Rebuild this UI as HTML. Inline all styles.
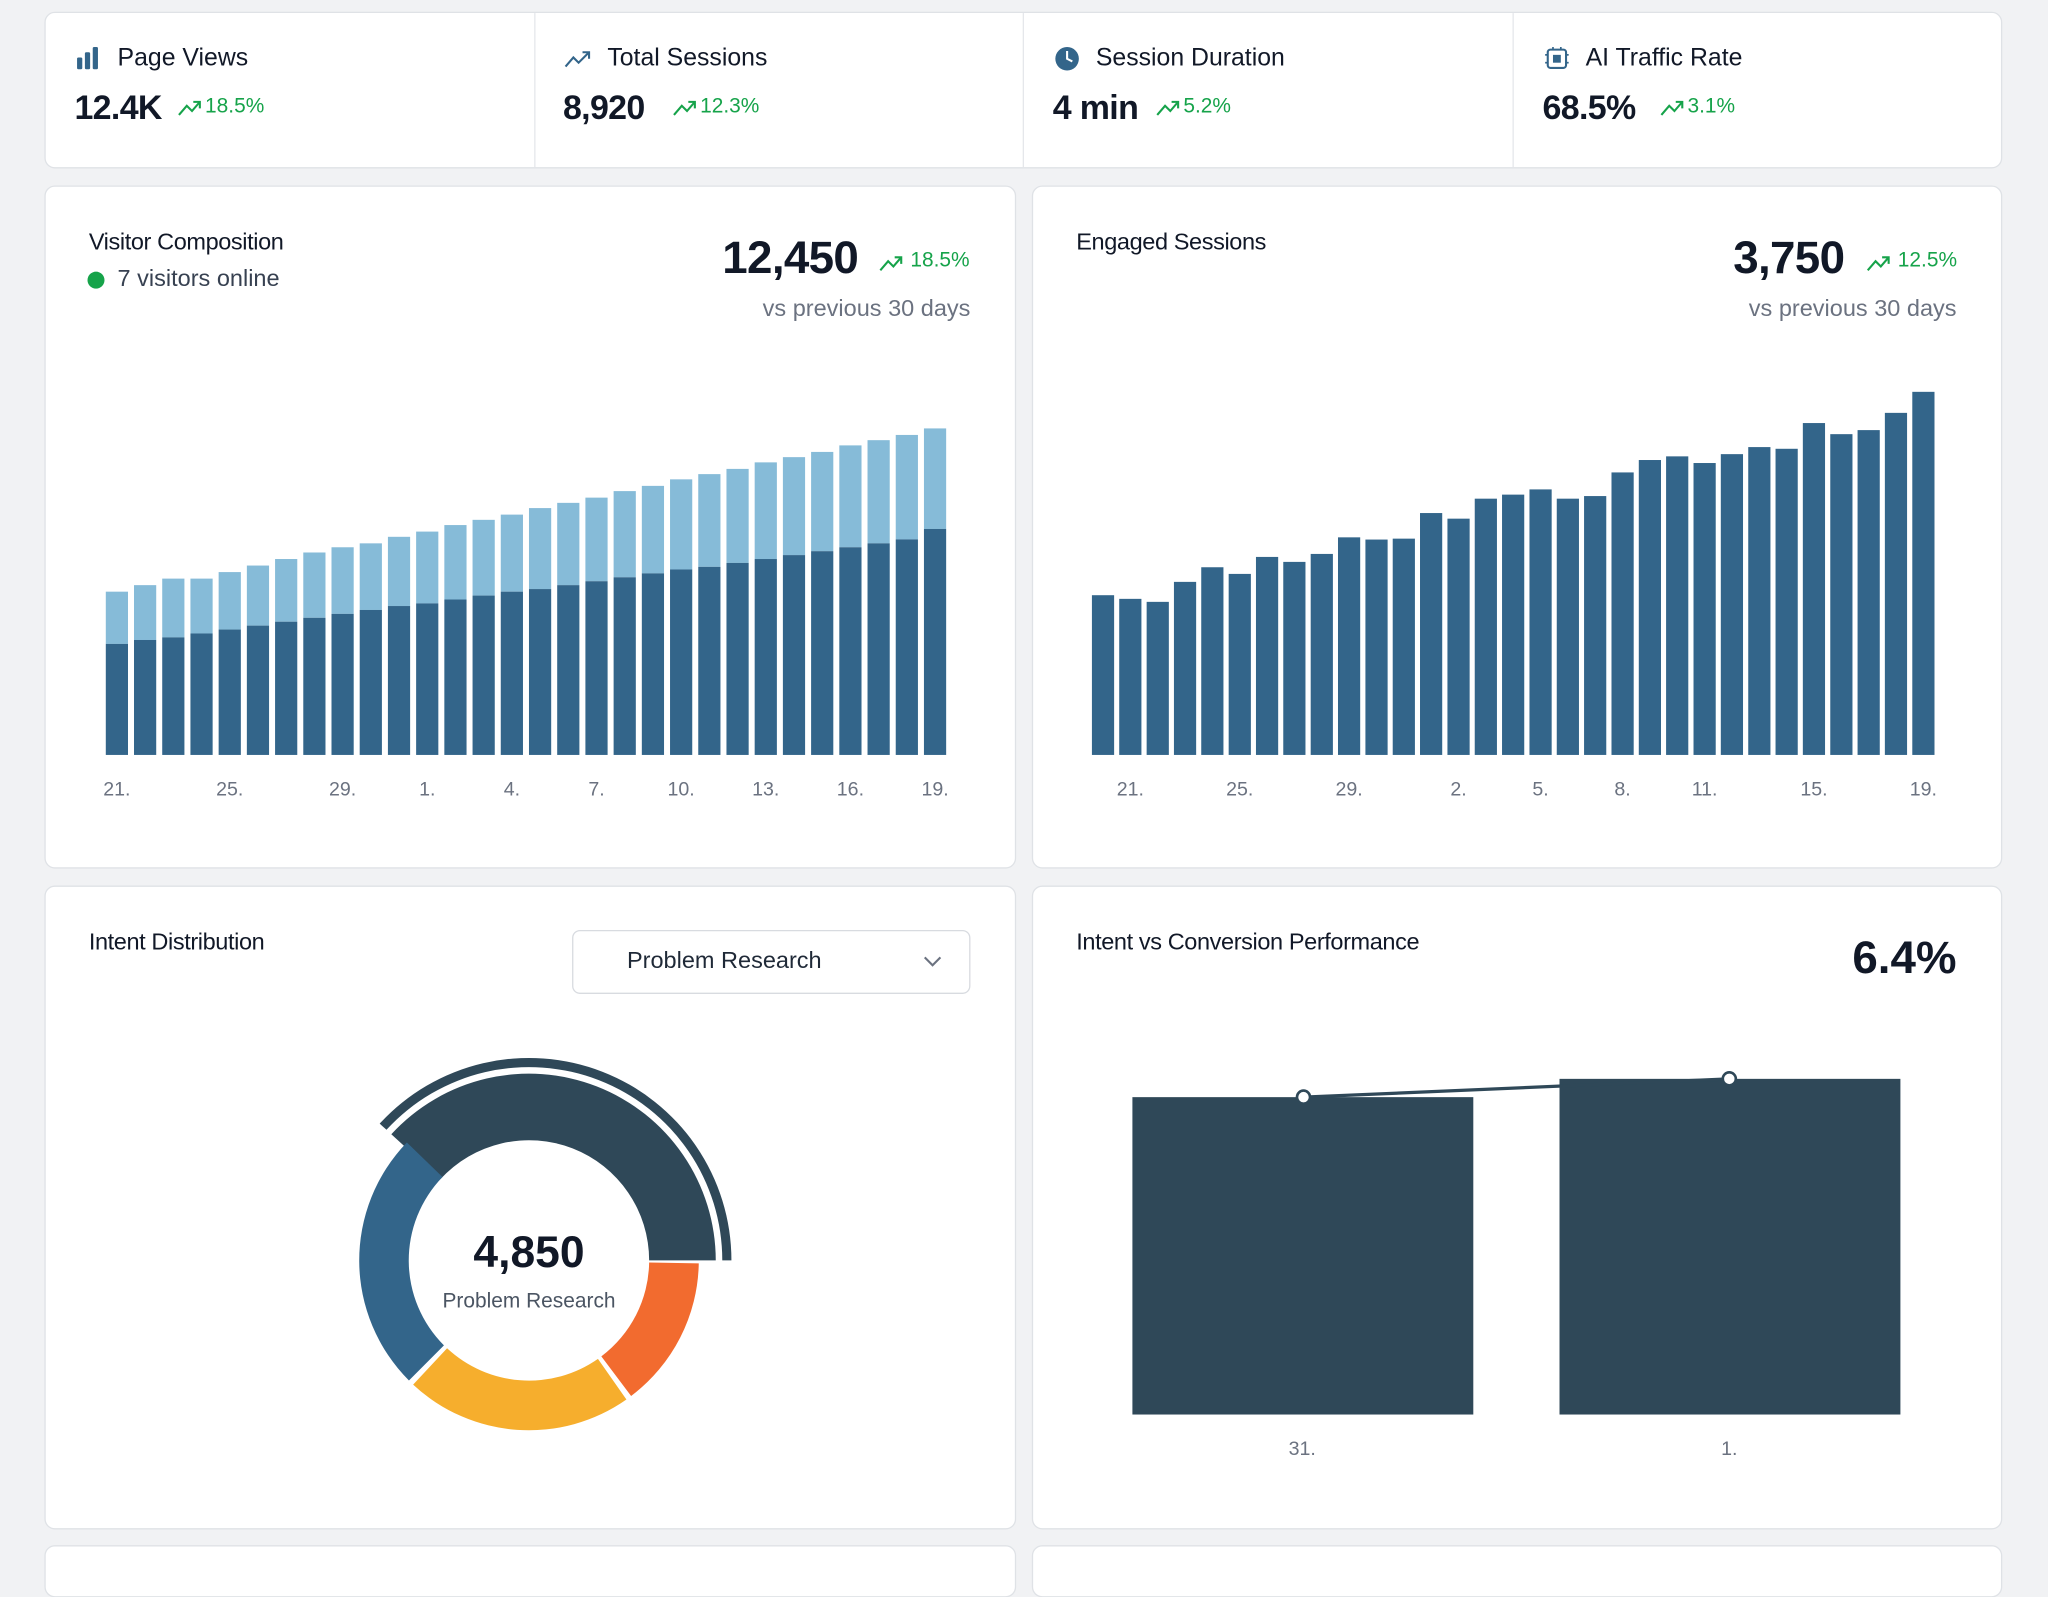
<!DOCTYPE html>
<html><head><meta charset="utf-8">
<style>
html,body{margin:0;padding:0;background:#f1f2f4;width:2048px;height:1549px;overflow:hidden}
#w{position:absolute;left:0;top:0;width:1568px;height:1186px;transform:scale(1.30612);transform-origin:0 0;font-family:"Liberation Sans",sans-serif;color:#111827}
.card{position:absolute;background:#fff;border:1px solid #dfe2e6;border-radius:8px;box-sizing:border-box}
.t{position:absolute;white-space:nowrap}
.g{color:#16a34a}
</style></head><body><div id="w">
<div class="card" style="left:34px;top:9px;width:1499px;height:120px"></div>
<div style="position:absolute;left:409px;top:10px;width:1px;height:118px;background:#e5e7eb"></div>
<div style="position:absolute;left:783px;top:10px;width:1px;height:118px;background:#e5e7eb"></div>
<div style="position:absolute;left:1158px;top:10px;width:1px;height:118px;background:#e5e7eb"></div>
<div class="card" style="left:34px;top:142px;width:744px;height:523px"></div>
<div class="card" style="left:790px;top:142px;width:743px;height:523px"></div>
<div class="card" style="left:34px;top:678px;width:744px;height:493px"></div>
<div class="card" style="left:790px;top:678px;width:743px;height:493px"></div>
<div class="card" style="left:34px;top:1183px;width:744px;height:40px"></div>
<div class="card" style="left:790px;top:1183px;width:743px;height:40px"></div>

<svg style="position:absolute;left:0;top:0" width="1568" height="240">
<g fill="#33658a"><rect x="59" y="44" width="4" height="9" rx="1"/><rect x="65" y="40" width="4" height="13" rx="1"/><rect x="71" y="36" width="4" height="17" rx="1"/></g>
<polyline points="433,51 439,44 443,48 451,40" fill="none" stroke="#33658a" stroke-width="1.6"/><polyline points="446,40 451,40 451,45" fill="none" stroke="#33658a" stroke-width="1.6"/>
<circle cx="817" cy="45" r="9" fill="#33658a"/><polyline points="817,39 817,45 821,47" fill="none" stroke="#fff" stroke-width="1.6"/>
<rect x="1185" y="38" width="14" height="14" rx="2" fill="none" stroke="#33658a" stroke-width="1.6"/><rect x="1189" y="42" width="6" height="6" fill="#33658a"/>
<g stroke="#33658a" stroke-width="1.3"><line x1="1183" y1="42" x2="1185" y2="42"/><line x1="1183" y1="48" x2="1185" y2="48"/><line x1="1199" y1="42" x2="1201" y2="42"/><line x1="1199" y1="48" x2="1201" y2="48"/><line x1="1189" y1="36" x2="1189" y2="38"/><line x1="1195" y1="36" x2="1195" y2="38"/></g>
<g fill="none" stroke="#16a34a" stroke-width="1.6">
<polyline points="137,88 143,81 147,85 153,78"/><polyline points="148,78 153,78 153,83"/>
<polyline points="516,88 522,81 526,85 532,78"/><polyline points="527,78 532,78 532,83"/>
<polyline points="886,88 892,81 896,85 902,78"/><polyline points="897,78 902,78 902,83"/>
<polyline points="1272,88 1278,81 1282,85 1288,78"/><polyline points="1283,78 1288,78 1288,83"/>
<polyline points="674,207 680,200 684,204 690,197"/><polyline points="685,197 690,197 690,202"/>
<polyline points="1430,207 1436,200 1440,204 1446,197"/><polyline points="1441,197 1446,197 1446,202"/>
</g></svg>
<div class="t" style="left:90px;top:34px;font-size:19px">Page Views</div>
<div class="t" style="left:465px;top:34px;font-size:19px">Total Sessions</div>
<div class="t" style="left:839px;top:34px;font-size:19px">Session Duration</div>
<div class="t" style="left:1214px;top:34px;font-size:19px">AI Traffic Rate</div>
<div class="t" style="left:57px;top:67px;font-size:26px;font-weight:bold;letter-spacing:-0.5px">12.4K</div>
<div class="t" style="left:431px;top:67px;font-size:26px;font-weight:bold;letter-spacing:-0.5px">8,920</div>
<div class="t" style="left:806px;top:67px;font-size:26px;font-weight:bold;letter-spacing:-0.5px">4 min</div>
<div class="t" style="left:1181px;top:67px;font-size:26px;font-weight:bold;letter-spacing:-0.5px">68.5%</div>
<div class="t g" style="left:157px;top:73px;font-size:16px">18.5%</div>
<div class="t g" style="left:536px;top:73px;font-size:16px">12.3%</div>
<div class="t g" style="left:906px;top:73px;font-size:16px">5.2%</div>
<div class="t g" style="left:1292px;top:73px;font-size:16px">3.1%</div>

<div class="t" style="left:68px;top:175px;font-size:18px;letter-spacing:-0.3px">Visitor Composition</div>
<div style="position:absolute;left:67px;top:208px;width:13px;height:13px;border-radius:50%;background:#16a34a"></div>
<div class="t" style="left:90px;top:203px;font-size:18px;color:#374151">7 visitors online</div>
<div class="t" style="left:553px;top:178px;font-size:35px;font-weight:bold;letter-spacing:-0.5px">12,450</div>
<div class="t g" style="left:697px;top:191px;font-size:16px">18.5%</div>
<div class="t" style="right:825px;top:226px;font-size:18px;color:#6b7280">vs previous 30 days</div>

<div class="t" style="left:824px;top:175px;font-size:18px;letter-spacing:-0.3px">Engaged Sessions</div>
<div class="t" style="left:1327px;top:178px;font-size:35px;font-weight:bold;letter-spacing:-0.5px">3,750</div>
<div class="t g" style="left:1453px;top:191px;font-size:16px">12.5%</div>
<div class="t" style="right:70px;top:226px;font-size:18px;color:#6b7280">vs previous 30 days</div>

<svg id="c" style="position:absolute;left:0;top:0" width="1568" height="1186"></svg>

<div class="t" style="left:68px;top:711px;font-size:18px;letter-spacing:-0.3px">Intent Distribution</div>
<div style="position:absolute;left:438px;top:712px;width:305px;height:49px;border:1px solid #d8dbe0;border-radius:6px;box-sizing:border-box"></div>
<div class="t" style="left:480px;top:725px;font-size:18px;color:#1f2937">Problem Research</div>
<svg style="position:absolute;left:706px;top:731px" width="16" height="10"><polyline points="2,2 8,8 14,2" fill="none" stroke="#6b7280" stroke-width="1.6"/></svg>
<div class="t" style="left:305px;top:940px;width:200px;text-align:center;font-size:34px;font-weight:bold">4,850</div>
<div class="t" style="left:305px;top:988px;width:200px;text-align:center;font-size:16px;color:#4b5563">Problem Research</div>

<div class="t" style="left:824px;top:711px;font-size:18px;letter-spacing:-0.3px">Intent vs Conversion Performance</div>
<div class="t" style="right:70px;top:714px;font-size:35px;font-weight:bold">6.4%</div>
</div>
<script>
var s='',i;
var tot=[453,448,443,443,438,433,428,423,419,416,411,407,402,398,394,389,385,381,376,372,367,363,359,354,350,346,341,337,333,328];
var dk=[493,490,488,485,482,479,476,473,470,467,464,462,459,456,453,451,448,445,442,439,436,434,431,428,425,422,419,416,413,405];
for(i=0;i<30;i++){var x=81+21.6*i;s+='<rect x="'+x+'" y="'+tot[i]+'" width="17" height="'+(dk[i]-tot[i])+'" fill="#86bbd8"/><rect x="'+x+'" y="'+dk[i]+'" width="17" height="'+(578-dk[i])+'" fill="#33658a"/>';}
var vl=[[0,'21.'],[4,'25.'],[8,'29.'],[11,'1.'],[14,'4.'],[17,'7.'],[20,'10.'],[23,'13.'],[26,'16.'],[29,'19.']];
vl.forEach(function(l){s+='<text x="'+(81+21.6*l[0]+8.5)+'" y="609" font-size="15" fill="#6b7280" text-anchor="middle" font-family="Liberation Sans">'+l[1]+'</text>';});
var e=[455.7,458.5,460.8,445.5,434.3,439.4,426.4,430.2,424.1,411.4,413.1,412.4,392.8,397.1,381.8,378.7,374.7,381.8,379.8,361.7,352.2,349.4,354.5,347.7,342.3,343.6,323.9,332.4,329.3,316.1,300];
var sp=649/31;
for(i=0;i<31;i++){var x=836+sp*i;s+='<rect x="'+x.toFixed(1)+'" y="'+e[i]+'" width="17" height="'+(578-e[i]).toFixed(1)+'" fill="#33658a"/>';}
var el=[[1,'21.'],[5,'25.'],[9,'29.'],[13,'2.'],[16,'5.'],[19,'8.'],[22,'11.'],[26,'15.'],[30,'19.']];
el.forEach(function(l){s+='<text x="'+(836+sp*l[0]+8.5).toFixed(1)+'" y="609" font-size="15" fill="#6b7280" text-anchor="middle" font-family="Liberation Sans">'+l[1]+'</text>';});
s+='<path d="M299.6,868.4 A143,143 0 0 1 548,965 L497,965 A92,92 0 0 0 337.2,902.8 Z" fill="#2f4858"/>';
s+='<path d="M290.7,860.3 A155,155 0 0 1 560,965 L553,965 A148,148 0 0 0 295.9,865 Z" fill="#2f4858"/>';
s+='<path d="M535,967.3 A130,130 0 0 1 483.2,1068.8 L460.4,1038.5 A92,92 0 0 0 497,966.6 Z" fill="#f26b2f"/>';
s+='<path d="M479.6,1071.5 A130,130 0 0 1 316.3,1060.1 L342.3,1032.3 A92,92 0 0 0 457.8,1040.4 Z" fill="#f6ae2d"/>';
s+='<path d="M313.1,1056.9 A130,130 0 0 1 311.5,874.7 L338.8,901.1 A92,92 0 0 0 339.9,1030.1 Z" fill="#33658a"/>';
s+='<rect x="867" y="840" width="261" height="243" fill="#2f4858"/><rect x="1194" y="826" width="261" height="257" fill="#2f4858"/>';
s+='<line x1="998" y1="840" x2="1324" y2="826" stroke="#2f4858" stroke-width="2.5"/>';
s+='<circle cx="998" cy="840" r="5" fill="#fff" stroke="#2f4858" stroke-width="2"/><circle cx="1324" cy="826" r="5" fill="#fff" stroke="#2f4858" stroke-width="2"/>';
s+='<text x="997" y="1114" font-size="15" fill="#6b7280" text-anchor="middle" font-family="Liberation Sans">31.</text><text x="1324" y="1114" font-size="15" fill="#6b7280" text-anchor="middle" font-family="Liberation Sans">1.</text>';
document.getElementById('c').innerHTML=s;
</script>
</body></html>
